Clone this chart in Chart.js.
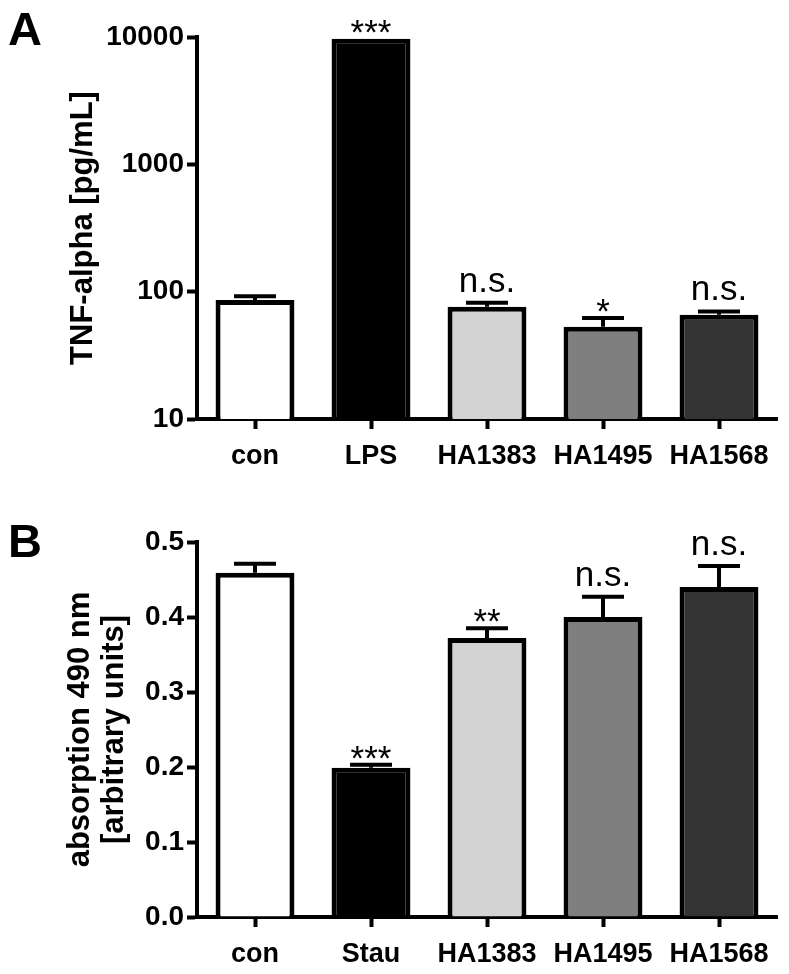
<!DOCTYPE html>
<html>
<head>
<meta charset="utf-8">
<script src="https://cdn.jsdelivr.net/npm/chart.js@4/dist/chart.umd.min.js"></script>
<style>
  body { margin: 0; background: #fff; }
  #wrap { position: relative; width: 789px; height: 974px; }
  canvas { position: absolute; left: 0; }
</style>
</head>
<body>
<div id="wrap">
  <canvas id="chartA" width="789" height="480" style="top:0"></canvas>
  <canvas id="chartB" width="789" height="494" style="top:480px"></canvas>
</div>
<script>
// panel A - TNF-alpha (log scale)
var catsA = ['con', 'LPS', 'HA1383', 'HA1495', 'HA1568'];
var valsA = [86, 9700, 76, 53, 66];
var errA = [92, 9700, 82, 62, 70];       // top of error bar
var starsA = ['', '***', 'n.s.', '*', 'n.s.'];
var ticksA = [10, 100, 1000, 10000];

// panel B - absorption 490 nm
var catsB = ['con', 'Stau', 'HA1383', 'HA1495', 'HA1568'];
var valsB = [0.459, 0.199, 0.372, 0.40, 0.44];
var errB = [0.471, 0.203, 0.385, 0.427, 0.468];
var starsB = ['', '***', '**', 'n.s.', 'n.s.'];

var barColors = ['#ffffff', '#000000', '#d3d3d3', '#7f7f7f', '#333333'];

Chart.defaults.font.family = '"Liberation Sans", Arial, sans-serif';
Chart.defaults.color = '#000';

// error bars, significance marks and panel letter
var extras = {
  id: 'extras',
  afterDatasetsDraw: function(chart) {
    var o = chart.options.plugins.extras;
    var ctx = chart.ctx;
    var ys = chart.scales.y;
    var bars = chart.getDatasetMeta(0).data;
    ctx.save();
    ctx.strokeStyle = '#000';
    ctx.fillStyle = '#000';
    ctx.lineWidth = 4;
    for (var i = 0; i < bars.length; i++) {
      var x = bars[i].x;
      var yTop = ys.getPixelForValue(o.vals[i]);
      var yErr = ys.getPixelForValue(o.errs[i]);
      if (yTop - yErr > 1) {
        ctx.beginPath();
        ctx.moveTo(x, yTop);
        ctx.lineTo(x, yErr);
        ctx.moveTo(x - 21, yErr);
        ctx.lineTo(x + 21, yErr);
        ctx.stroke();
      }
      var m = o.marks[i];
      if (m) {
        ctx.font = '35px "Liberation Sans", Arial, sans-serif';
        ctx.textAlign = 'center';
        ctx.textBaseline = 'alphabetic';
        var base = m.charAt(0) == '*' ? yErr + 5 : yErr - 11;
        ctx.fillText(m, x, base);
      }
    }
    ctx.font = 'bold 47px "Liberation Sans", Arial, sans-serif';
    ctx.textAlign = 'left';
    ctx.fillText(o.letter, 8, o.letterY);
    ctx.restore();
  }
};

function makeChart(id, cats, vals, errs, marks, yScale, opts) {
  var ctx = document.getElementById(id);
  return new Chart(ctx, {
    type: 'bar',
    data: {
      labels: cats,
      datasets: [{
        data: vals,
        backgroundColor: barColors,
        borderColor: '#000',
        borderWidth: 5,
        barPercentage: 0.68,
        categoryPercentage: 1
      }]
    },
    options: {
      responsive: false,
      animation: false,
      layout: { padding: { top: opts.top, right: 12, left: 0, bottom: 0 } },
      plugins: {
        legend: { display: false },
        tooltip: { enabled: false },
        extras: { vals: vals, errs: errs, marks: marks, letter: opts.letter, letterY: opts.letterY }
      },
      scales: {
        x: {
          afterFit: function(s) { s.height = opts.xh; },
          grid: { offset: false, drawOnChartArea: false, tickLength: 10, tickWidth: 4, tickColor: '#000', color: '#000' },
          border: { width: 4, color: '#000' },
          ticks: { padding: 11, font: { size: 27, weight: 'bold' } }
        },
        y: yScale
      }
    },
    plugins: [extras]
  });
}

makeChart('chartA', catsA, valsA, errA, starsA, {
  type: 'logarithmic',
  min: 10,
  max: 10000,
  afterBuildTicks: function(s) { s.ticks = ticksA.map(function(v) { return { value: v }; }); },
  afterFit: function(s) { s.width = 197; },
  grid: { drawOnChartArea: false, tickLength: 10, tickWidth: 4, tickColor: '#000', color: '#000' },
  border: { width: 4, color: '#000' },
  ticks: { padding: 3, font: { size: 28, weight: 'bold' }, callback: function(v) { return String(v); } },
  title: { display: true, text: 'TNF-alpha [pg/mL]', font: { size: 31, weight: 'bold' }, padding: { top: 65, bottom: 0 } }
}, { top: 37, xh: 61, letter: 'A', letterY: 45 });

makeChart('chartB', catsB, valsB, errB, starsB, {
  min: 0,
  max: 0.5,
  afterFit: function(s) { s.width = 197; },
  grid: { drawOnChartArea: false, tickLength: 10, tickWidth: 4, tickColor: '#000', color: '#000' },
  border: { width: 4, color: '#000' },
  ticks: { stepSize: 0.1, padding: 3, font: { size: 28, weight: 'bold' }, callback: function(v) { return v.toFixed(1); } },
  title: { display: true, text: ['absorption 490 nm', '[arbitrary units]'], font: { size: 31, weight: 'bold', lineHeight: 1.1 }, padding: { top: 63, bottom: 0 } }
}, { top: 62, xh: 57, letter: 'B', letterY: 77 });
</script>
</body>
</html>
